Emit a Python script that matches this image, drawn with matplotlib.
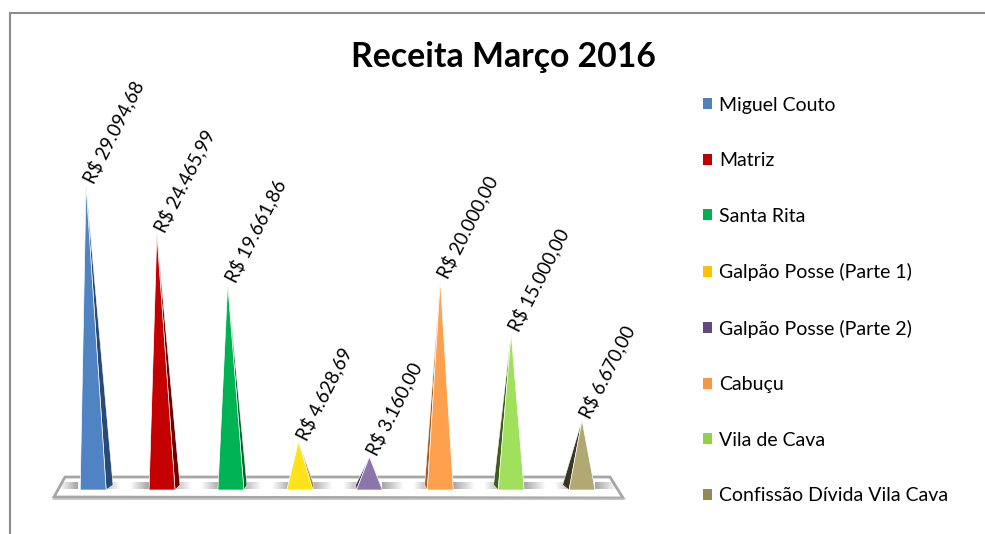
import numpy as np
import matplotlib.pyplot as plt
from matplotlib.patches import Polygon, Patch
from matplotlib.lines import Line2D

plt.rcParams['font.family'] = ['Lato', 'DejaVu Sans']

# dados
categorias = ['Miguel Couto', 'Matriz', 'Santa Rita', 'Galpão Posse (Parte 1)',
              'Galpão Posse (Parte 2)', 'Cabuçu', 'Vila de Cava', 'Confissão Dívida Vila Cava']
valores = [29094.68, 24465.99, 19661.86, 4628.69, 3160.00, 20000.00, 15000.00, 6670.00]
rotulos = ['R$ 29.094,68', 'R$ 24.465,99', 'R$ 19.661,86', 'R$ 4.628,69',
           'R$ 3.160,00', 'R$ 20.000,00', 'R$ 15.000,00', 'R$ 6.670,00']

cor_legenda = ['#4F81BD', '#C00000', '#00B050', '#FFC000', '#604A7B', '#F79646', '#92D050', '#948A54']
cor_frente = ['#4F83C4', '#C40000', '#00B352', '#FFE31A', '#8B76AC', '#FFA04F', '#A0E05C', '#B2A872']
cor_lado = ['#2A4A75', '#6E0000', '#00662E', '#A88E00', '#3A2D52', '#A65C1E', '#3E5C1A', '#3A3520']

fig = plt.figure(figsize=(9.85, 5.34), dpi=100)
ax = fig.add_axes([40 / 985, 14 / 534, 600 / 985, 450 / 534])
ax.set_xlim(-0.649, 7.818)
ax.set_ylim(-2862, 40064)
ax.axis('off')

# escala px -> dados (aprox)
py = 95.39      # valor por pixel vertical
px = 1 / 70.86  # indice por pixel horizontal

# chao
chao = Polygon([(-0.296, 13 * py), (7.395, 13 * py), (7.578, -8 * py), (-0.452, -7 * py)],
               closed=True, facecolor='white', edgecolor='#a6a6a6', lw=2, zorder=1)
ax.add_patch(chao)
ax.plot([-0.452, 7.578], [-9 * py, -9 * py], color='#bfbfbf', lw=1.2, zorder=1)

# sombras no chao
meio = 3.6
for i, v in enumerate(valores):
    g = np.linspace(0, 1, 50)
    rgba = np.zeros((1, 50, 4))
    rgba[..., :3] = 0.45
    rgba[0, :, 3] = g * 0.65
    ax.imshow(rgba, extent=(i - 0.38, i - 0.12, 1 * py, 8 * py), aspect='auto', zorder=2,
              interpolation='bilinear')
    rgba2 = rgba.copy()
    rgba2[0, :, 3] = g[::-1] * 0.65
    ax.imshow(rgba2, extent=(i + 0.18, i + 0.48, 1 * py, 8 * py), aspect='auto', zorder=2,
              interpolation='bilinear')

# piramides
for i, v in enumerate(valores):
    w = 13 * px
    c = i + max(0.0, meio - i) * 2.0 * px   # centro da base (perspectiva)
    d = (i - meio) * 1.9 * px
    if d < 0:
        lado = [(c + w, 0), (c + w - d, 5 * py), (i, v)]
    else:
        lado = [(c - w, 0), (c - w - d, 5 * py), (i, v)]
    ax.add_patch(Polygon(lado, closed=True, facecolor=cor_lado[i], edgecolor='white', lw=0.4, zorder=3))
    frente = [(c - w, 0), (c + w, 0), (i, v)]
    ax.add_patch(Polygon(frente, closed=True, facecolor=cor_frente[i], edgecolor='white', lw=0.5, zorder=4))
    ax.text(i + 2 * px, v + 3 * py, rotulos[i], rotation=63, rotation_mode='anchor',
            ha='left', va='center', fontsize=13.5, color='black', zorder=5)

fig.text(503 / 985, 1 - 57 / 534, 'Receita Março 2016', ha='center', va='center',
         fontsize=24.3, fontweight='bold', color='black')

handles = [Patch(facecolor=c, edgecolor='none') for c in cor_legenda]
fig.legend(handles, categorias, loc='upper left', bbox_to_anchor=(693 / 985, 1 - 87 / 534),
           frameon=False, fontsize=14, handlelength=0.5, handleheight=0.5,
           handletextpad=0.35, labelspacing=1.98, borderpad=0)

# moldura
fig.add_artist(Line2D([10 / 985, 10 / 985], [0, 1 - 13 / 534], color='#8c8c8c', lw=1.5))
fig.add_artist(Line2D([10 / 985, 1], [1 - 13 / 534, 1 - 13 / 534], color='#8c8c8c', lw=1.5))

fig.savefig('out.png', dpi=100)
